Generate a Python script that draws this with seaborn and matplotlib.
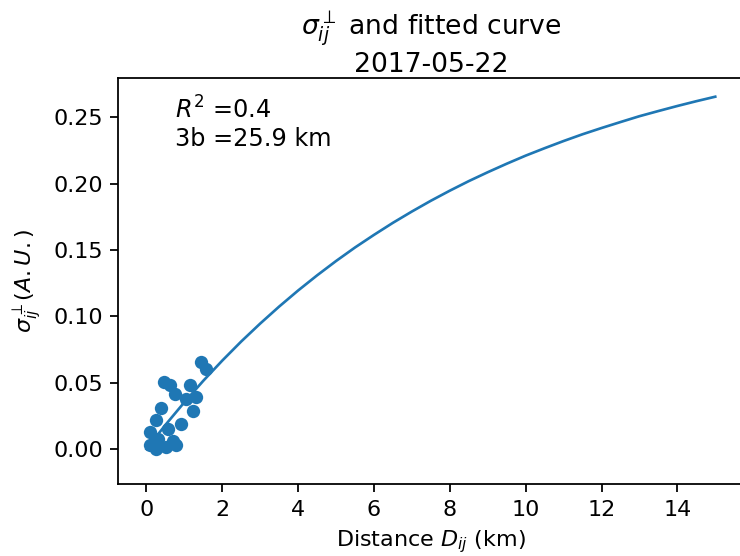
import numpy as np
import pandas as pd
import matplotlib
matplotlib.use("Agg")
import matplotlib.pyplot as plt
import seaborn as sns

# measured pairs (distance km, sigma)
dist_km = [1.43, 1.58, 0.465, 0.615, 0.76, 1.14, 1.318, 1.05, 0.377, 1.23,
           0.261, 0.921, 0.57, 0.087, 0.305, 0.702, 0.087, 0.26, 0.526, 0.79]
sigma = [0.0654, 0.0605, 0.0505, 0.048, 0.0416, 0.048, 0.039, 0.0378, 0.031, 0.0284,
         0.0216, 0.0191, 0.0148, 0.0128, 0.0078, 0.0058, 0.0028, 0.0002, 0.0015, 0.0028]

# fitted curve
fit_x = [0, 0.5, 1, 1.5, 2, 2.5, 3, 3.5, 4, 4.5, 5, 5.5, 6, 6.5, 7, 7.5,
         8, 8.5, 9, 9.5, 10, 10.5, 11, 11.5, 12, 12.5, 13, 13.5, 14, 14.5, 15]
fit_y = [0.0, 0.0181, 0.0352, 0.0514, 0.0666, 0.0810, 0.0945, 0.1073, 0.1194,
         0.1308, 0.1416, 0.1518, 0.1613, 0.1704, 0.1789, 0.1870, 0.1946,
         0.2018, 0.2085, 0.2149, 0.2210, 0.2266, 0.2320, 0.2371, 0.2418,
         0.2463, 0.2507, 0.2546, 0.2584, 0.2620, 0.2654]

r2_text = "$R^2$ =0.4"
range_text = "3b =25.9 km"
date_label = "2017-05-22"


def main():
    dpi = 160
    fig = plt.figure(figsize=(740 / dpi, 556 / dpi), dpi=dpi)
    ax = fig.add_axes([0.16, 0.1295, 0.845, 0.730])

    points = pd.DataFrame({"dist": dist_km, "sigma": sigma})
    curve = pd.DataFrame({"dist": fit_x, "sigma": fit_y})

    sns.scatterplot(data=points, x="dist", y="sigma", ax=ax,
                    color="#1f77b4", s=36, linewidth=0, zorder=2)
    sns.lineplot(data=curve, x="dist", y="sigma", ax=ax,
                 color="#1f77b4", linewidth=1.2, sort=False, zorder=3)

    ax.set_xlim(-0.74, 15.75)
    ax.set_ylim(-0.0264, 0.2794)
    ax.set_xticks(np.arange(0, 15, 2))
    ax.set_yticks(np.arange(0, 0.26, 0.05))

    ax.text(0.09, 0.955, r2_text + "\n" + range_text, transform=ax.transAxes,
            fontsize=10.8, va="top", ha="left")

    ax.set_title(r"$\sigma_{ij}^{\perp}$ and fitted curve" + "\n" + date_label,
                 fontsize=12, pad=2)
    ax.set_xlabel(r"Distance $D_{ij}$ (km)")
    ax.set_ylabel(r"$\sigma_{ij}^{\perp} (A.U.)$")

    fig.savefig("out.png", dpi=dpi)
    plt.close(fig)


if __name__ == "__main__":
    main()
